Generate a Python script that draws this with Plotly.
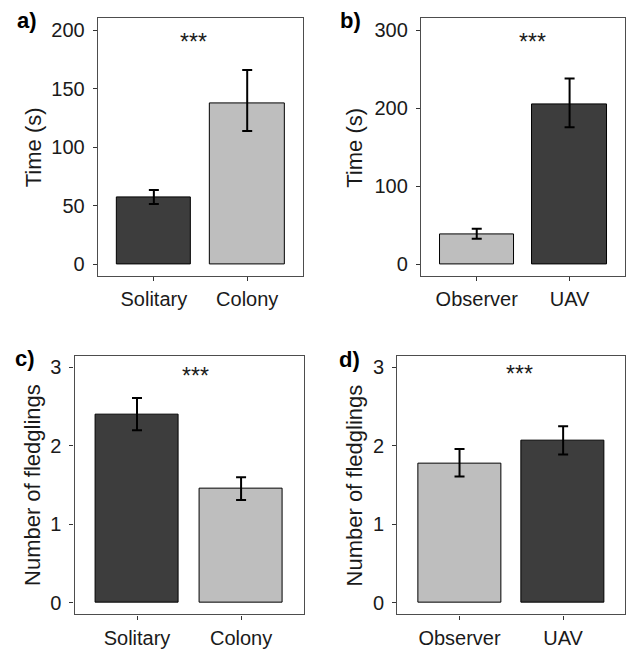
import plotly.graph_objects as go

# ---- data ----
cats_a = ["Solitary", "Colony"]
time_a = [57.0, 137.5]
time_a_hi = [63.5, 166.0]
time_a_lo = [51.7, 114.0]

cats_b = ["Observer", "UAV"]
time_b = [38.9, 204.5]
time_b_hi = [45.6, 238.0]
time_b_lo = [32.9, 175.6]

cats_c = ["Solitary", "Colony"]
fledg_c = [2.40, 1.45]
fledg_c_hi = [2.61, 1.60]
fledg_c_lo = [2.20, 1.31]

cats_d = ["Observer", "UAV"]
fledg_d = [1.77, 2.07]
fledg_d_hi = [1.96, 2.25]
fledg_d_lo = [1.61, 1.89]

DARK = "#3d3d3d"
LIGHT = "#bebebe"
W, H = 627, 649

panels = [
    dict(name="a", cats=cats_a, vals=time_a, hi=time_a_hi, lo=time_a_lo, colors=[DARK, LIGHT],
         px=(98, 303.7), py=(18.5, 277.5), yr=[-10, 210], yt=[0, 50, 100, 150, 200],
         ytitle="Time (s)", tx=33, star=(1.43, 190), lab=(27, 21)),
    dict(name="b", cats=cats_b, vals=time_b, hi=time_b_hi, lo=time_b_lo, colors=[LIGHT, DARK],
         px=(421.7, 626.3), py=(18.5, 277.5), yr=[-15, 315], yt=[0, 100, 200, 300],
         ytitle="Time (s)", tx=355, star=(1.6, 285), lab=(351, 21)),
    dict(name="c", cats=cats_c, vals=fledg_c, hi=fledg_c_hi, lo=fledg_c_lo, colors=[DARK, LIGHT],
         px=(74.7, 304), py=(357.3, 617.3), yr=[-0.15, 3.15], yt=[0, 1, 2, 3],
         ytitle="Number of fledglings", tx=32, star=(1.56, 2.89), lab=(25, 360)),
    dict(name="d", cats=cats_d, vals=fledg_d, hi=fledg_d_hi, lo=fledg_d_lo, colors=[LIGHT, DARK],
         px=(398, 626.3), py=(357.3, 617.3), yr=[-0.15, 3.15], yt=[0, 1, 2, 3],
         ytitle="Number of fledglings", tx=355, star=(1.58, 2.91), lab=(350, 361)),
]

fig = go.Figure()
FONT = "Liberation Sans, Arial, sans-serif"
TXT = "#1a1a1a"
FS = 20
annotations = []

for i, p in enumerate(panels):
    n = "" if i == 0 else str(i + 1)
    xa, ya = "x" + n, "y" + n
    xs = [1, 2]
    fig.add_trace(go.Bar(
        x=xs, y=p["vals"], width=0.8, xaxis=xa, yaxis=ya,
        marker=dict(color=p["colors"], line=dict(color="black", width=1)),
        error_y=dict(type="data", symmetric=False,
                     array=[h - v for h, v in zip(p["hi"], p["vals"])],
                     arrayminus=[v - l for v, l in zip(p["vals"], p["lo"])],
                     color="black", thickness=2, width=5),
        showlegend=False, hoverinfo="skip",
    ))
    xd = [p["px"][0] / W, p["px"][1] / W]
    yd = [1 - p["py"][1] / H, 1 - p["py"][0] / H]
    axcommon = dict(showline=True, linecolor="#4d4d4d", linewidth=1.3, mirror=True,
                    ticks="outside", ticklen=4, tickwidth=1.3, tickcolor="#333333",
                    showgrid=False, zeroline=False,
                    tickfont=dict(family=FONT, size=FS, color=TXT))
    fig.layout["xaxis" + n] = dict(domain=xd, range=[0.4, 2.6], tickvals=xs, ticktext=p["cats"],
                                   anchor=ya, ticklabelstandoff=1, **axcommon)
    fig.layout["yaxis" + n] = dict(domain=yd, range=p["yr"], tickvals=p["yt"], anchor=xa,
                                   ticklabelstandoff=4, **axcommon)
    annotations.append(dict(text="***", x=p["star"][0], y=p["star"][1], xref=xa, yref=ya,
                            showarrow=False, font=dict(family=FONT, size=23, color=TXT),
                            xanchor="center", yanchor="middle"))
    annotations.append(dict(text=p["ytitle"], textangle=-90, x=p["tx"] / W,
                            y=1 - (p["py"][0] + p["py"][1]) / 2 / H, xref="paper", yref="paper",
                            showarrow=False, font=dict(family=FONT, size=22, color=TXT),
                            xanchor="center", yanchor="middle"))
    annotations.append(dict(text="<b>" + p["name"] + ")</b>", x=p["lab"][0] / W, y=1 - p["lab"][1] / H,
                            xref="paper", yref="paper", showarrow=False,
                            font=dict(family=FONT, size=22, color="black"),
                            xanchor="center", yanchor="middle"))

fig.update_layout(width=W, height=H, margin=dict(l=0, r=0, t=0, b=0),
                  paper_bgcolor="white", plot_bgcolor="white",
                  annotations=annotations, bargap=0)
fig.write_html("out.html", config={"displayModeBar": False},
               post_script="document.body.style.margin='0';document.body.style.overflow='hidden';")
